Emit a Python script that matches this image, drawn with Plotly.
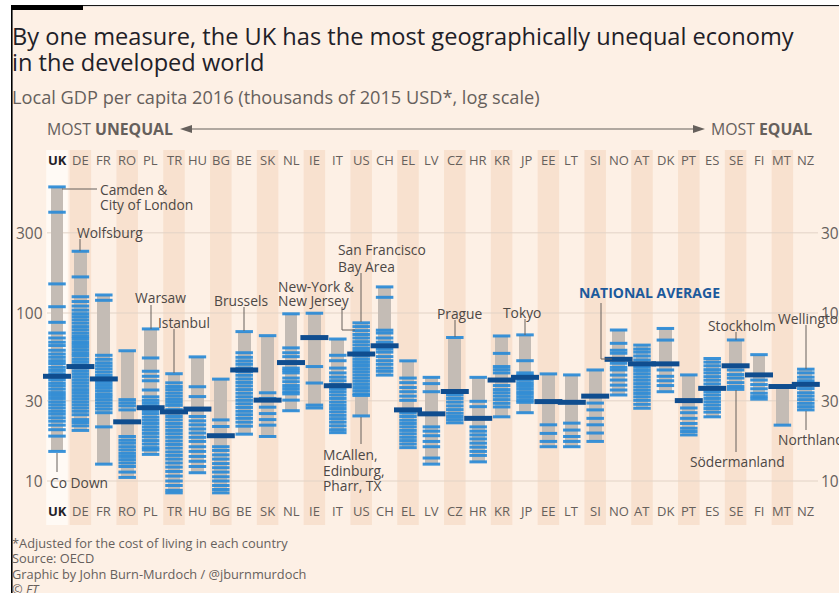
import math
import plotly.graph_objects as go

W, H = 839, 593

# ---------------- data ----------------
countries = ["UK", "DE", "FR", "RO", "PL", "TR", "HU", "BG", "BE", "SK", "NL", "IE", "IT",
             "US", "CH", "EL", "LV", "CZ", "HR", "KR", "JP", "EE", "LT", "SI", "NO", "AT",
             "DK", "PT", "ES", "SE", "FI", "MT", "NZ"]

national_avg = [42, 48, 40.5, 22.5, 27.3, 25.8, 26.8, 18.6, 45.8, 30.3, 50.7, 71.4, 36.9,
                57, 63.8, 26.5, 25.1, 34.1, 23.6, 39.9, 41.4, 29.7, 29.4, 32, 53, 49.8,
                49.8, 30.1, 35.6, 48.5, 42.8, 36.5, 37.6]

uk_regions = [563, 398, 149, 109, 88, 76, 71, 67, 64, 60, 57, 54.5, 52, 50, 47.5, 45.5, 43.5,
              41.5, 40, 38.2, 36.8, 35.2, 33.6, 32.3, 31, 29.6, 28.4, 27.2, 26, 25, 23.8,
              22.7, 21.5, 20.2, 18.5, 15]
de_regions = [233, 164, 125, 117, 110, 104, 99, 95, 91, 87, 83, 79.5, 76, 73, 70.5, 67.5,
              65, 62.5, 60, 57.5, 55.5, 53, 51, 49, 47, 45, 43.2, 41.5, 39.8, 38.2, 36.6,
              35, 33.6, 32.2, 30.9, 29.6, 28.4, 27.2, 26, 24.8, 23.2, 22.3, 21.3, 20]
fr_regions = [128, 119, 56, 53, 50.5, 48.5, 46.5, 44.5, 42.5, 40.8, 39, 37.5, 36, 34.5, 33,
              31.8, 30.5, 29.2, 28, 26.8, 25.5, 21, 12.6]
ro_regions = [59.6, 30.5, 29.2, 28, 26.5, 18.4, 17.5, 16.8, 16, 15.3, 14.6, 14, 13.4, 12.8,
              12.2, 11.3, 10.5]
pl_regions = [80.4, 54, 45, 42, 39.5, 34.8, 31.7, 30.2, 29, 27.8, 26.3, 25.2, 24, 23, 22, 21,
              20.1, 19.2, 18.3, 17.4, 16.6, 15.8, 15.3, 14.4]
tr_regions = [43.5, 38.4, 36.5, 35, 33.4, 32, 30.6, 29.4, 28.2, 26.6, 25.4, 24.2, 23.1, 22,
              21, 20, 19.1, 18.2, 17.3, 16.5, 15.7, 14.9, 14.2, 13.5, 12.8, 12.1, 11.4, 10.7,
              10, 9.4, 8.8, 8.5]
hu_regions = [54.8, 36.4, 31.8, 24.2, 22.8, 21.6, 20.4, 19.3, 18.2, 17.2, 16, 15, 14, 13.1,
              12.2, 11.2]
bg_regions = [40.4, 23.1, 21.1, 16, 15.2, 14.3, 13.5, 12.7, 12, 11.3, 10.6, 10, 9.4, 8.9, 8.5]
be_regions = [77.5, 58, 54.5, 51.8, 49.5, 47, 44.8, 42.6, 40.5, 38.6, 36.8, 35, 33.3, 31.7,
              30.2, 28.8, 27.4, 26, 24.8, 23.6, 22.4, 21.2, 19]
sk_regions = [73.3, 33.5, 31, 27.5, 25.2, 23.2, 21.5, 18.4]
nl_regions = [98.9, 62, 58, 55, 47, 45.5, 44, 41, 39, 37, 35.5, 34, 33, 30.3, 26.2]
ie_regions = [99.7, 48, 38.3, 28.3, 27.2]
it_regions = [70, 56, 52, 47, 44, 41.5, 39.5, 37.5, 35.5, 34, 32.5, 31, 29.5, 28.2, 27, 25.8,
              24.6, 23.5, 22.4, 21.3, 20.2, 19.4]
us_regions = [87.4, 83, 78.5, 74.5, 71, 67.5, 64.5, 61.5, 59, 55.5, 53, 50.8, 48.7, 46.6,
              44.7, 42.8, 41, 39.3, 37.6, 36, 34.5, 33, 32.3, 24.4]
ch_regions = [143, 124, 79, 76, 71, 67, 61, 58.5, 55, 52, 49.5, 47, 45, 42.7]
el_regions = [51.9, 41, 38.5, 36, 34, 32, 30.2, 25.4, 24.2, 23, 22, 21, 20, 19.1, 18.2, 17.4,
              16.6, 15.8]
lv_regions = [41.4, 38, 34, 21, 19.8, 18.6, 17.2, 16, 13.7, 12.6]
cz_regions = [71.5, 32.5, 31, 29.5, 28, 26.6, 25.3, 24.2, 23.2, 22.2]
hr_regions = [41.4, 29.8, 27.7, 21, 19.8, 18.8, 17.8, 16.8, 15.9, 15, 14.2, 13]
kr_regions = [73, 57.5, 48, 46, 44, 37, 35, 33.5, 32, 30.5, 29, 27.6, 24.1]
jp_regions = [74.1, 52, 44, 42.5, 40, 38.4, 37, 35.5, 34, 32.8, 31.5, 30.3, 29.4, 25.5]
ee_regions = [43.4, 21.6, 19.2, 17.2, 16]
lt_regions = [42.8, 22.1, 20.1, 18.4, 17.2, 16]
si_regions = [45.8, 29.1, 26.5, 23.6, 21.6, 19.3, 17.2]
no_regions = [79.2, 66, 60, 57.6, 50.2, 47.5, 45.8, 42.7, 39.9, 37.2, 34.8, 32.5]
at_regions = [64.4, 61, 58.5, 55.5, 52.5, 47.5, 45.5, 43.5, 41.6, 39.8, 38, 36.3, 34.7, 33.2,
              31.7, 30.2, 28.6, 27.1]
dk_regions = [80.9, 69, 45.8, 42, 39.5, 37, 34]
pt_regions = [42.8, 27.2, 25.5, 23.6, 22, 20.6, 19.7, 18.8]
es_regions = [53.6, 51, 48.5, 46, 44, 41.8, 39.8, 37.8, 34, 32.5, 31, 29.6, 28.3, 27, 25.7,
              24.1]
se_regions = [69.1, 45.8, 43, 41, 38.5, 36.5, 35.1]
fi_regions = [56.5, 39.9, 37.5, 35.4, 33.3, 31.8, 30.7]
mt_regions = [36.8, 21.5]
nz_regions = [46.3, 44, 41.5, 39.5, 35.5, 33.5, 32, 30.5, 29, 27.7, 26.5]

region_lists = [uk_regions, de_regions, fr_regions, ro_regions, pl_regions, tr_regions,
                hu_regions, bg_regions, be_regions, sk_regions, nl_regions, ie_regions,
                it_regions, us_regions, ch_regions, el_regions, lv_regions, cz_regions,
                hr_regions, kr_regions, jp_regions, ee_regions, lt_regions, si_regions,
                no_regions, at_regions, dk_regions, pt_regions, es_regions, se_regions,
                fi_regions, mt_regions, nz_regions]

y_ticks = [10, 30, 100, 300]
y_tick_labels = ["10", "30", "100", "300"]

# ---------------- styling ----------------
FONT = "Open Sans"
BG = "#fdf0e5"
STRIPE = "#f8e1cf"
GREY_TXT = "#66605c"
DARK_TXT = "#1f2128"
LABEL_TXT = "#4d4845"
BAR_GREY = "#c4bcb5"
BLUE = "#2a8bd7"
NAVY = "#0f4d8f"

# pixel geometry of the axes (plot area fills whole figure)
X0_PX, DX_PX = 57, 23.4
Y10_PX, DEC_PX = 481, 168
x_range = [-X0_PX / DX_PX, (W - X0_PX) / DX_PX]
y_range = [1 + (Y10_PX - H) / DEC_PX, 1 + Y10_PX / DEC_PX]


def pxx(px):
    return px / W


def pxy(py):
    return 1 - py / H


def dx(px):  # pixel x -> data x
    return (px - X0_PX) / DX_PX


fig = go.Figure()

# grey range bars
mins = [min(r) for r in region_lists]
maxs = [max(r) for r in region_lists]
fig.add_trace(go.Bar(
    x=list(range(len(countries))), base=mins,
    y=[mx - mn for mx, mn in zip(maxs, mins)],
    width=0.54, marker=dict(color=BAR_GREY, line=dict(width=0)),
    hoverinfo="skip", showlegend=False))

# regional ticks
rx, ry = [], []
for i, r in enumerate(region_lists):
    rx += [i] * len(r)
    ry += r
fig.add_trace(go.Scatter(
    x=rx, y=ry, mode="markers",
    marker=dict(symbol="line-ew", size=12.5, color=BLUE, opacity=0.92,
                line=dict(width=3.0, color=BLUE)),
    hoverinfo="skip", showlegend=False))

# national averages
fig.add_trace(go.Scatter(
    x=list(range(len(countries))), y=national_avg, mode="markers",
    marker=dict(symbol="line-ew", size=20, color=NAVY, line=dict(width=5, color=NAVY)),
    hoverinfo="skip", showlegend=False))

shapes = []
# frame background
shapes.append(dict(type="rect", xref="paper", yref="paper", x0=pxx(12.5), x1=1,
                   y0=0, y1=pxy(6.5), fillcolor=BG, line=dict(width=0), layer="below"))
# stripes
for i, c in enumerate(countries):
    if i == 0:
        col = "#fffaf5"
    elif i % 2 == 1:
        col = STRIPE
    else:
        continue
    shapes.append(dict(type="rect", xref="x", yref="paper", x0=i - 0.46, x1=i + 0.46,
                       y0=pxy(525), y1=pxy(150), fillcolor=col, line=dict(width=0),
                       layer="below"))
# gridlines
for v in y_ticks:
    shapes.append(dict(type="line", xref="x", yref="y", x0=dx(47), x1=dx(818), y0=v, y1=v,
                       line=dict(color="#e2d3c6", width=1), layer="below"))
# frame lines
shapes.append(dict(type="line", xref="paper", yref="paper", x0=pxx(11.8), x1=pxx(11.8),
                   y0=0, y1=pxy(5), line=dict(color="#000", width=1.6)))
shapes.append(dict(type="line", xref="paper", yref="paper", x0=pxx(11), x1=1,
                   y0=pxy(5.6), y1=pxy(5.6), line=dict(color="#000", width=1)))
shapes.append(dict(type="rect", xref="paper", yref="paper", x0=pxx(11), x1=pxx(83),
                   y0=pxy(10), y1=pxy(5), fillcolor="#000", line=dict(width=0)))

# arrow
ay = pxy(129)
shapes.append(dict(type="line", xref="paper", yref="paper", x0=pxx(188), x1=pxx(697),
                   y0=ay, y1=ay, line=dict(color=GREY_TXT, width=1.2)))
shapes.append(dict(type="path", xref="paper", yref="paper",
                   path=f"M {pxx(180)} {ay} L {pxx(192)} {pxy(125)} L {pxx(192)} {pxy(133)} Z",
                   fillcolor=GREY_TXT, line=dict(width=0)))
shapes.append(dict(type="path", xref="paper", yref="paper",
                   path=f"M {pxx(705)} {ay} L {pxx(693)} {pxy(125)} L {pxx(693)} {pxy(133)} Z",
                   fillcolor=GREY_TXT, line=dict(width=0)))

# leader lines (pixel polylines)
leaders = [
    [(62, 189), (97, 189)],
    [(80, 239), (80, 251)],
    [(151, 305), (151, 329)],
    [(174, 329), (174, 373)],
    [(244, 307), (244, 331)],
    [(342, 307), (342, 330), (355, 330)],
    [(361, 273), (361, 322)],
    [(361, 417), (361, 444)],
    [(455, 320), (455, 337)],
    [(525, 319), (525, 335)],
    [(601, 303), (601, 359), (612, 359)],
    [(736, 332), (736, 340)],
    [(736, 390), (736, 452)],
    [(806, 325), (806, 369)],
    [(806, 411), (806, 430)],
    [(57, 453), (57, 472)],
]
for pts in leaders:
    path = "M " + " L ".join(f"{pxx(a)} {pxy(b)}" for a, b in pts)
    shapes.append(dict(type="path", xref="paper", yref="paper", path=path,
                       line=dict(color=GREY_TXT, width=1)))

ann = []


def text(t, x, y, size, color=GREY_TXT, xanchor="left", bold=False, italic=False):
    if bold:
        t = f"<b>{t}</b>"
    if italic:
        t = f"<i>{t}</i>"
    ann.append(dict(text=t, x=pxx(x), y=pxy(y), xref="paper", yref="paper",
                    xanchor=xanchor, yanchor="middle", showarrow=False, align="left",
                    font=dict(family=FONT, size=size, color=color)))


text("By one measure, the UK has the most geographically unequal economy", 10, 36, 23.6, DARK_TXT)
text("in the developed world", 10, 62, 23.6, DARK_TXT)
text("Local GDP per capita 2016 (thousands of 2015 USD*, log scale)", 10, 97, 18.2, GREY_TXT)
text("MOST <b>UNEQUAL</b>", 45, 129, 15.8)
text("MOST <b>EQUAL</b>", 709, 129, 15.8)

for i, c in enumerate(countries):
    for yy in (160, 511):
        ann.append(dict(text=f"<b>{c}</b>" if i == 0 else c, x=i, y=pxy(yy), xref="x",
                        yref="paper", xanchor="center", yanchor="middle", showarrow=False,
                        font=dict(family=FONT, size=13,
                                  color=DARK_TXT if i == 0 else GREY_TXT)))

for v, lab in zip(y_ticks, y_tick_labels):
    ann.append(dict(text=lab, x=dx(45), y=math.log10(v), xref="x", yref="y",
                    xanchor="right", yanchor="middle", showarrow=False,
                    font=dict(family=FONT, size=15.5, color=GREY_TXT)))
    ann.append(dict(text=lab, x=dx(819), y=math.log10(v), xref="x", yref="y",
                    xanchor="left", yanchor="middle", showarrow=False,
                    font=dict(family=FONT, size=15.5, color=GREY_TXT)))

# callouts: one entry per text line (text, left x px, centre y px)
callouts = [
    ("Camden &", 98, 190), ("City of London", 98, 205),
    ("Wolfsburg", 75, 232),
    ("Warsaw", 133, 297),
    ("Istanbul", 156, 322),
    ("Brussels", 212, 300),
    ("New-York &", 276, 286), ("New Jersey", 276, 300),
    ("San Francisco", 336, 250), ("Bay Area", 336, 266),
    ("McAllen,", 321, 454), ("Edinburg,", 321, 470), ("Pharr, TX", 321, 485),
    ("Prague", 435, 313),
    ("Tokyo", 501, 312),
    ("Stockholm", 706, 325),
    ("Södermanland", 688, 461),
    ("Wellington", 776, 318),
    ("Northland", 776, 439),
    ("Co Down", 48, 482),
]
for t, x, y in callouts:
    text(t, x, y, 13.8, LABEL_TXT)
text("NATIONAL AVERAGE", 577, 292, 14, "#1c5a9c", bold=True)

text("*Adjusted for the cost of living in each country", 10, 543, 12.8)
text("Source: OECD", 10, 558, 12.8)
text("Graphic by John Burn-Murdoch / @jburnmurdoch", 10, 574, 12.8)
text("© FT", 10, 589, 12.8, italic=True)

fig.update_layout(
    width=W, height=H, margin=dict(l=0, r=0, t=0, b=0, pad=0),
    paper_bgcolor="white", plot_bgcolor="rgba(0,0,0,0)",
    xaxis=dict(range=x_range, visible=False, fixedrange=True),
    yaxis=dict(type="log", range=y_range, visible=False, fixedrange=True),
    shapes=shapes, annotations=ann, bargap=0, showlegend=False,
)

fig.write_html("out.html", config={"displayModeBar": False},
               post_script="document.body.style.margin='0';document.body.style.overflow='hidden';")
